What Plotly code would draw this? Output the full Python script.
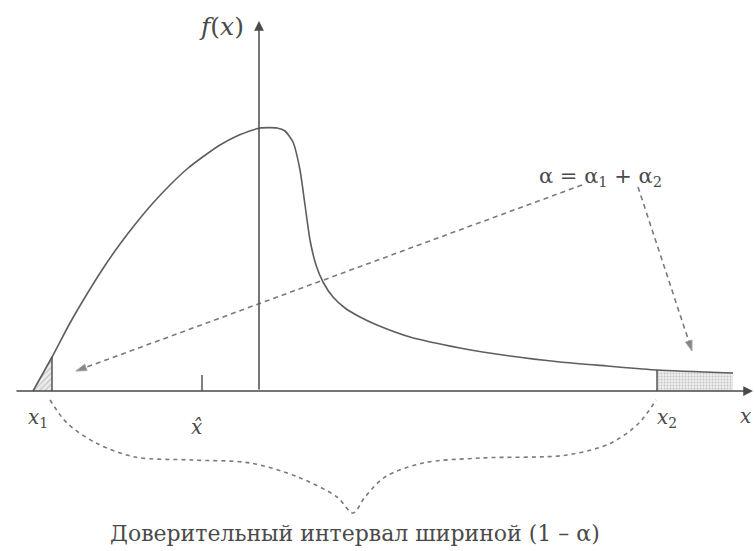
import numpy as np
import plotly.graph_objects as go

# Density curve f(x): x measured from the f(x) axis, height above the x axis
curve_x = [-227, -208, -190, -173, -156, -140, -123, -107, -90, -73, -56, -40,
           -23, -7, 0, 17, 25, 33, 40, 45, 50, 56, 63, 73, 85, 100, 117,
           150, 200, 250, 300, 347, 397, 473]
curve_y = [0, 34, 68, 97, 124, 147, 169, 188, 206, 222, 235, 246,
           255, 261, 263, 263, 260, 249, 221, 186, 151, 126, 109, 94, 83, 74, 66,
           54, 43, 35, 29, 25, 21, 18]

# Interval bounds and point estimate
x1 = -208
x2 = 397
x_hat = -58
x_hat_tick = 16

# Axis extents
x_axis_from, x_axis_to = -245, 493
y_axis_to = 370

# Dashed pointers from the alpha label to both tails
alpha_left_x = [322, -184]
alpha_left_y = [206, 20]
alpha_right_x = [378, 432]
alpha_right_y = [204, 40]

# Dashed brace under the axis, joining x1 and x2
brace_x = [-210, -193, -164, -125, -68, -10, 38, 77, 93,
           105, 125, 163, 221, 307, 351, 379, 396]
brace_y = [-9, -32, -52, -66, -69, -72, -86, -106, -122,
           -106, -86, -72, -67, -64, -52, -32, -9]

AX = "#4a4a4a"
CURVE = "#5e5e5e"
DASH = "#7a7a7a"
SERIF = "DejaVu Serif"

fx1 = float(np.interp(x1, curve_x, curve_y))
fx2 = float(np.interp(x2, curve_x, curve_y))

fig = go.Figure()

# Left tail area (alpha_1)
lx = [curve_x[0]] + [x for x in curve_x if curve_x[0] < x < x1] + [x1, x1]
ly = [0] + [y for x, y in zip(curve_x, curve_y) if curve_x[0] < x < x1] + [fx1, 0]
fig.add_trace(go.Scatter(
    x=lx, y=ly, mode="lines", fill="toself", line=dict(width=0),
    fillcolor="rgba(200,200,200,0.35)",
    fillpattern=dict(shape="/", fgcolor="#8a8a8a", size=4, solidity=0.25),
    hoverinfo="skip"))

# Right tail area (alpha_2)
rx = [x2] + [x for x in curve_x if x > x2]
ry = [fx2] + [y for x, y in zip(curve_x, curve_y) if x > x2]
rx = rx + [rx[-1], x2]
ry = ry + [0, 0]
fig.add_trace(go.Scatter(
    x=rx, y=ry, mode="lines", fill="toself", line=dict(width=0),
    fillcolor="rgba(215,215,215,0.45)",
    fillpattern=dict(shape=".", fgcolor="#9a9a9a", size=3, solidity=0.3),
    hoverinfo="skip"))

# Density curve
fig.add_trace(go.Scatter(
    x=curve_x, y=curve_y, mode="lines",
    line=dict(color=CURVE, width=1.6, shape="spline", smoothing=0.6),
    hoverinfo="skip"))

# Bounds x1, x2 and the estimate tick
for xs, ys in [([x1, x1], [0, fx1]), ([x2, x2], [0, fx2]),
               ([x_hat, x_hat], [0, x_hat_tick])]:
    fig.add_trace(go.Scatter(x=xs, y=ys, mode="lines",
                             line=dict(color=AX, width=1.4), hoverinfo="skip"))

# Coordinate axes with arrowheads
for tip, tail in [((x_axis_to, 0), (x_axis_from, 0)),
                  ((-1, y_axis_to), (-1, 0))]:
    fig.add_annotation(x=tip[0], y=tip[1], ax=tail[0], ay=tail[1],
                       xref="x", yref="y", axref="x", ayref="y",
                       text="", showarrow=True, arrowhead=2, arrowsize=1.3,
                       arrowwidth=1.5, arrowcolor=AX, standoff=0)

# Dashed pointers
for xs, ys in [(alpha_left_x, alpha_left_y), (alpha_right_x, alpha_right_y)]:
    fig.add_trace(go.Scatter(
        x=xs, y=ys, mode="lines+markers",
        line=dict(color=DASH, width=1.6, dash="5px,4px"),
        marker=dict(symbol="arrow", size=[0, 11], color="#555555",
                    angleref="previous"),
        hoverinfo="skip"))

# Dashed brace
fig.add_trace(go.Scatter(
    x=brace_x, y=brace_y, mode="lines",
    line=dict(color=DASH, width=1.6, dash="4px,4px", shape="spline",
              smoothing=0.9),
    hoverinfo="skip"))

labels = [
    ("<i>f</i>(<i>x</i>)", -39, 365, 25),
    ("<i>x</i><sub>1</sub>", -222, -27, 20),
    ("<i>x̂</i>", -64, -36, 20),
    ("<i>x</i><sub>2</sub>", 407, -27, 20),
    ("<i>x</i>", 485, -25, 20),
    ("α = α<sub>1</sub> + α<sub>2</sub>", 340, 214, 21),
    ("Доверительный интервал шириной (1 – α)", 95, -142, 22),
]
for text, x, y, size in labels:
    fig.add_annotation(x=x, y=y, text=text, showarrow=False,
                       xanchor="center", yanchor="middle",
                       font=dict(family=SERIF, size=size, color="#4a4a4a"))

fig.update_layout(
    width=754, height=551,
    margin=dict(l=0, r=0, t=0, b=0),
    paper_bgcolor="white", plot_bgcolor="white",
    showlegend=False,
    xaxis=dict(range=[-260, 494], visible=False, fixedrange=True),
    yaxis=dict(range=[-160, 391], visible=False, fixedrange=True),
)

fig.write_html("out.html")
